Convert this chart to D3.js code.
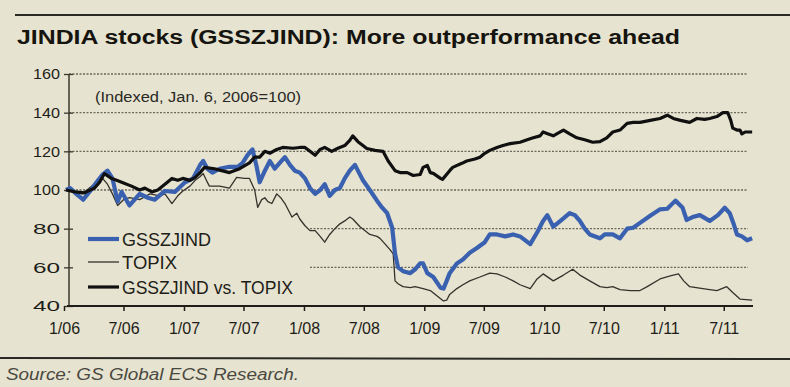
<!DOCTYPE html>
<html>
<head>
<meta charset="utf-8">
<script src="https://cdn.jsdelivr.net/npm/d3@7"></script>
<style>
  body { margin: 0; background: #e6e3d0; }
  svg { display: block; }
</style>
</head>
<body>
<svg id="chart" width="790" height="387"></svg>
<script>
// ── Data ──
// points are [months since 1 Jan 2006, index value]
const yTicks = [40, 60, 80, 100, 120, 140, 160];
const gridValues = [60, 80, 100, 120, 140, 160];
const xTickDates = [
  [2006, 0], [2006, 6], [2007, 0], [2007, 6], [2008, 0], [2008, 6],
  [2009, 0], [2009, 6], [2010, 0], [2010, 6], [2011, 0], [2011, 6]
];
const xTickLabels = ["1/06", "7/06", "1/07", "7/07", "1/08", "7/08",
  "1/09", "7/09", "1/10", "7/10", "1/11", "7/11"];
const seriesNames = ["GSSZJIND", "TOPIX", "GSSZJIND vs. TOPIX"];

const gsszjind = [
  [0.2, 100], [0.6, 101], [1.2, 98], [1.9, 95], [2.6, 99], [3.3, 104], [3.9, 108],
  [4.4, 110], [4.9, 106], [5.4, 94], [5.8, 99], [6.6, 92], [7.6, 98], [8.4, 96],
  [9.1, 95], [10.1, 99.5], [11.1, 99], [12.1, 104], [12.9, 106], [13.6, 113],
  [13.9, 115], [14.4, 111], [14.9, 109], [15.6, 111], [16.6, 112], [17.4, 112],
  [17.9, 114], [18.4, 118], [18.9, 121], [19.3, 112], [19.6, 104], [20.1, 110],
  [20.6, 115], [21.1, 111], [21.6, 114], [22.1, 117], [22.6, 113], [23.1, 110],
  [23.6, 109], [24.1, 106], [24.6, 101], [25.1, 98], [25.6, 100], [26.1, 103],
  [26.6, 97], [27.1, 100], [27.6, 101], [28.1, 106], [28.6, 110], [29.1, 113],
  [29.5, 109], [29.9, 105], [30.6, 100], [31.3, 94.5], [31.8, 91], [32.3, 88],
  [32.8, 80.5], [33.1, 67], [33.4, 60], [33.9, 58], [34.6, 57], [35.1, 59],
  [35.6, 62], [35.9, 62], [36.3, 57], [36.9, 55], [37.6, 49.5], [37.9, 49],
  [38.3, 53], [38.6, 57], [39.3, 62], [39.9, 64], [40.6, 67.5], [41.3, 70],
  [42.1, 73], [42.6, 77], [43.3, 77], [44.1, 76], [44.9, 77], [45.6, 76],
  [46.6, 72], [47.3, 78], [47.9, 84], [48.3, 87], [48.9, 81], [49.6, 84],
  [50.6, 88], [51.1, 87], [51.6, 84], [52.1, 80], [52.6, 77], [53.6, 75],
  [54.1, 77], [54.9, 77], [55.6, 75], [56.3, 80], [56.9, 80.5], [57.6, 83],
  [58.6, 86.7], [59.6, 90], [60.3, 90.3], [61.1, 94.5], [61.8, 91], [62.3, 84.5],
  [62.9, 86], [63.6, 87], [64.6, 84], [65.4, 87], [66.1, 90.8], [66.6, 88],
  [67.0, 82], [67.3, 77], [67.8, 76], [68.3, 74], [68.8, 75]
];

const topix = [
  [0.2, 100], [1.1, 99], [1.8, 98], [2.6, 101], [3.3, 104], [3.9, 106], [4.4, 103],
  [4.9, 98], [5.4, 92], [6.0, 95], [6.6, 96], [7.6, 95], [8.6, 98], [9.6, 97],
  [10.1, 98], [10.8, 93], [11.4, 97], [11.9, 99.5], [12.6, 102], [13.1, 105],
  [13.6, 107], [13.9, 108.5], [14.3, 105], [14.6, 102], [15.6, 102], [16.6, 101],
  [17.3, 106.5], [18.1, 106], [18.6, 106], [19.1, 100], [19.4, 91], [19.8, 95],
  [20.1, 96], [20.4, 94], [20.8, 93], [21.3, 98], [21.7, 96], [22.1, 93],
  [22.8, 86], [23.3, 88], [23.6, 85], [24.1, 81.5], [24.6, 79], [25.1, 79],
  [25.6, 76], [26.1, 73], [26.6, 77], [27.1, 80], [27.6, 82.5], [28.1, 84],
  [28.6, 86], [28.9, 85], [29.6, 81], [30.1, 79], [30.6, 77], [31.3, 76],
  [31.6, 75], [32.1, 72], [32.6, 69], [32.9, 67], [33.1, 53], [33.4, 51.5],
  [33.9, 50], [34.6, 49.5], [35.1, 50], [35.9, 49], [36.6, 48], [37.3, 45],
  [37.9, 42.6], [38.3, 43], [38.6, 46], [39.3, 49], [39.9, 51], [40.6, 53],
  [41.6, 55], [42.6, 57], [43.3, 56.6], [44.1, 55], [44.9, 53], [45.6, 51],
  [46.6, 49], [47.3, 54], [47.9, 56.6], [48.9, 53], [49.9, 56], [50.9, 59],
  [51.6, 56], [52.6, 53], [53.6, 50], [54.3, 49.5], [54.9, 50], [55.6, 48.5],
  [56.6, 48], [57.6, 48], [58.3, 50], [59.6, 54], [60.6, 55.6], [61.4, 56.6],
  [62.0, 53], [62.6, 50], [63.9, 49], [64.6, 48.5], [65.3, 48], [66.3, 50],
  [66.9, 47], [67.6, 43.6], [68.8, 43]
];

const relative = [
  [0.2, 100], [1.1, 99], [2.1, 98.5], [3.1, 101], [3.6, 104], [4.1, 108.5],
  [4.8, 106], [5.3, 105], [5.8, 104], [6.8, 102], [7.6, 100], [8.1, 101],
  [8.8, 99], [9.4, 100], [10.1, 103], [10.8, 106], [11.4, 105], [11.9, 106],
  [12.6, 105], [13.1, 106.5], [13.6, 109], [14.1, 111.7], [15.1, 111], [15.8, 110],
  [16.6, 109], [17.6, 111], [18.6, 114], [19.1, 117], [19.6, 117], [20.1, 120],
  [20.6, 119], [21.3, 121], [21.9, 122], [22.9, 121.6], [23.6, 122], [24.1, 122],
  [24.6, 120], [25.1, 118], [25.6, 121], [26.1, 122], [26.8, 120], [27.4, 121.6],
  [28.1, 123], [28.6, 125.7], [28.9, 128], [29.4, 125], [29.9, 123], [30.3, 121.5],
  [31.1, 120.5], [31.9, 120], [32.4, 115], [33.1, 110], [33.6, 109], [34.3, 109],
  [34.9, 107.5], [35.6, 108], [35.9, 111.7], [36.3, 112.7], [36.6, 109], [36.9, 108.6],
  [37.6, 106], [37.8, 105.5], [38.6, 110], [38.9, 111.7], [39.8, 113.8], [40.3, 115],
  [41.1, 116], [41.6, 117], [42.1, 119], [42.6, 120.5], [43.3, 122], [43.9, 123],
  [44.6, 124], [45.6, 124.7], [46.3, 126], [46.9, 127], [47.6, 128], [47.9, 130],
  [48.4, 129], [48.9, 128], [49.4, 129.5], [49.9, 131], [50.6, 129], [51.3, 127],
  [52.1, 126], [52.9, 124.7], [53.6, 125], [54.3, 127], [54.9, 130], [55.6, 131],
  [56.3, 134.5], [56.9, 135], [57.6, 135], [58.1, 135.5], [58.6, 136], [59.6, 137],
  [60.3, 138.7], [60.9, 137], [61.6, 136], [62.6, 135], [63.3, 137], [64.1, 136.5],
  [64.6, 137], [65.3, 138], [65.9, 140], [66.4, 140], [66.7, 136], [66.9, 132],
  [67.3, 131], [67.6, 131], [67.8, 129], [68.1, 130], [68.8, 130]
];

// ── Setup ──
const svg = d3.select("#chart");
const W = 790, H = 387;
const font = "'Liberation Sans', Arial, sans-serif";
const ink = "#1e1d18";

svg.append("rect").attr("width", W).attr("height", H).attr("fill", "#e6e3d0");

const start = new Date(2006, 0, 1);
const toDate = (m) => {
  const base = d3.timeMonth.offset(start, Math.floor(m));
  return new Date(+base + (m % 1) * 30.44 * 864e5);
};

const x = d3.scaleTime()
  .domain([start, new Date(2011, 9, 1)])
  .range([64, 754]);
const y = d3.scaleLinear().domain([40, 160]).range([306, 74]);

const axisX = 69;

// ── Rules, title ──
svg.append("line").attr("x1", 15).attr("x2", W).attr("y1", 15).attr("y2", 15)
  .attr("stroke", "#2a2924").attr("stroke-width", 2);
svg.append("line").attr("x1", 0).attr("x2", W).attr("y1", 358).attr("y2", 359)
  .attr("stroke", "#2a2924").attr("stroke-width", 2);

svg.append("text")
  .attr("x", 17).attr("y", 44)
  .attr("font-family", font).attr("font-weight", "bold").attr("font-size", 20)
  .attr("fill", "#15140f")
  .attr("textLength", 663).attr("lengthAdjust", "spacingAndGlyphs")
  .text("JINDIA stocks (GSSZJIND): More outperformance ahead");

svg.append("text")
  .attr("x", 6).attr("y", 380)
  .attr("font-family", font).attr("font-style", "italic").attr("font-size", 16)
  .attr("fill", "#4a4840")
  .attr("textLength", 293).attr("lengthAdjust", "spacingAndGlyphs")
  .text("Source: GS Global ECS Research.");

// ── Gridlines (60/80 start right of the legend) ──
svg.append("g").selectAll("line")
  .data(gridValues)
  .join("line")
  .attr("x1", (d) => (d <= 80 ? 310 : axisX))
  .attr("x2", 748)
  .attr("y1", (d) => y(d)).attr("y2", (d) => y(d))
  .attr("stroke", "#6b685c").attr("stroke-width", 1.3)
  .attr("stroke-dasharray", "2,1.5");

svg.append("text")
  .attr("x", 95).attr("y", 102)
  .attr("font-family", font).attr("font-size", 14)
  .attr("fill", "#2a2924")
  .attr("textLength", 206).attr("lengthAdjust", "spacingAndGlyphs")
  .text("(Indexed, Jan. 6, 2006=100)");

// ── Axes ──
const yAxis = svg.append("g")
  .attr("transform", `translate(${axisX},0)`)
  .call(d3.axisLeft(y).tickValues(yTicks).tickSize(5).tickPadding(4));
yAxis.select(".domain").attr("stroke", "#3a382e").attr("stroke-width", 1.5)
  .attr("d", `M0,${y(160)}V${y(40)}`);
yAxis.selectAll(".tick line").attr("x1", 4).attr("stroke", "#3a382e").attr("stroke-width", 1.3);
yAxis.selectAll(".tick text")
  .attr("font-family", font).attr("font-size", 15).attr("fill", ink)
  .attr("textLength", 27).attr("lengthAdjust", "spacingAndGlyphs");

const xAxis = svg.append("g")
  .attr("transform", `translate(0,${y(40)})`)
  .call(d3.axisBottom(x)
    .tickValues(xTickDates.map(([yr, mo]) => new Date(yr, mo, 1)))
    .tickFormat((d, i) => xTickLabels[i])
    .tickSize(5).tickPadding(12));
xAxis.select(".domain").attr("stroke", "#1e1d18").attr("stroke-width", 2.2)
  .attr("d", `M${axisX - 2},0H753`);
xAxis.selectAll(".tick line").attr("stroke", "#1e1d18").attr("stroke-width", 1.5);
xAxis.selectAll(".tick text")
  .attr("font-family", font).attr("font-size", 16).attr("fill", ink);

// ── Lines ──
const line = d3.line()
  .x((d) => x(toDate(d[0])))
  .y((d) => y(d[1]));

const series = [
  { name: seriesNames[1], data: topix, color: "#34322a", width: 1.3 },
  { name: seriesNames[0], data: gsszjind, color: "#3a60b0", width: 4.2 },
  { name: seriesNames[2], data: relative, color: "#111010", width: 3.2 }
];

svg.append("g").selectAll("path")
  .data(series)
  .join("path")
  .attr("d", (d) => line(d.data))
  .attr("fill", "none")
  .attr("stroke", (d) => d.color)
  .attr("stroke-width", (d) => d.width)
  .attr("stroke-linejoin", "round");

// ── Legend ──
const legendItems = [series[1], series[0], series[2]];
const legendY = [239, 262, 287];
const legendLen = [89, 55, 171];
const legend = svg.append("g").selectAll("g")
  .data(legendItems)
  .join("g")
  .attr("transform", (d, i) => `translate(88,${legendY[i]})`);
legend.append("line")
  .attr("x1", 0).attr("x2", 31)
  .attr("stroke", (d) => d.color)
  .attr("stroke-width", (d) => d.width);
legend.append("text")
  .attr("x", 34).attr("y", 6.5)
  .attr("font-family", font).attr("font-size", 18)
  .attr("fill", ink)
  .attr("textLength", (d, i) => legendLen[i]).attr("lengthAdjust", "spacingAndGlyphs")
  .text((d) => d.name);
</script>
</body>
</html>
